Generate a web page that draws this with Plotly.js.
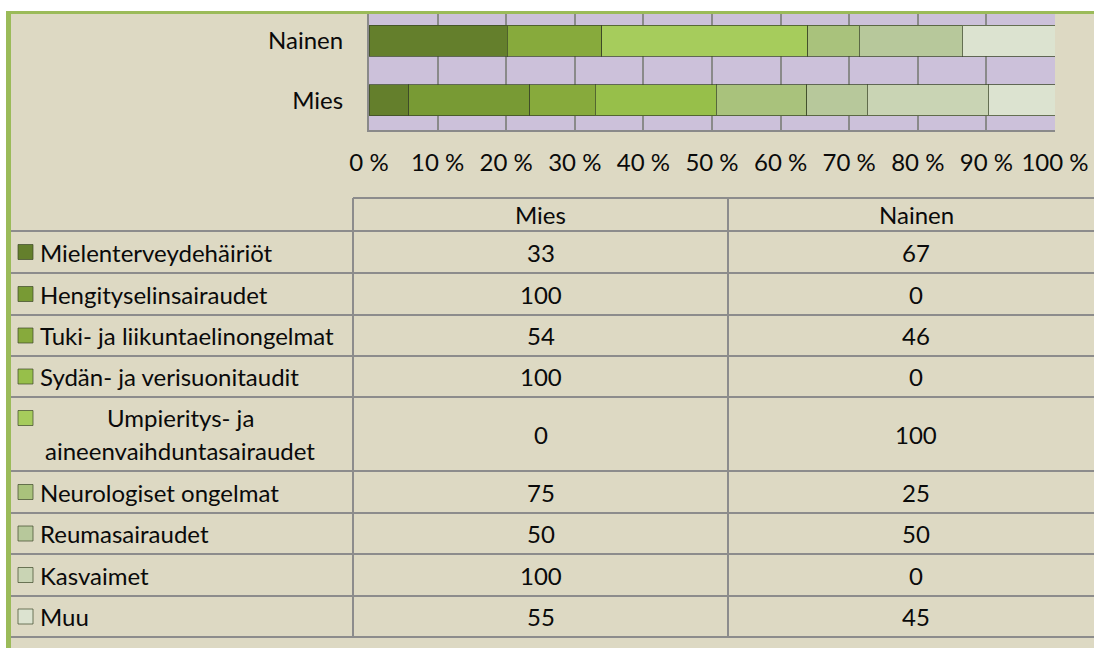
<!DOCTYPE html>
<html>
<head>
<meta charset="utf-8">
<script src="https://cdn.plot.ly/plotly-3.0.1.min.js"></script>
<style>html,body{margin:0;padding:0;background:#fff;}#chart{width:1094px;height:648px;}</style>
</head>
<body>
<div id="chart"></div>
<script>
// ---- data ----
const categories = ['Mies', 'Nainen'];
const seriesNames = [
  'Mielenterveydehäiriöt',
  'Hengityselinsairaudet',
  'Tuki- ja liikuntaelinongelmat',
  'Sydän- ja verisuonitaudit',
  'Umpieritys- ja<br>aineenvaihduntasairaudet',
  'Neurologiset ongelmat',
  'Reumasairaudet',
  'Kasvaimet',
  'Muu'
];
const miesValues   = [33, 100, 54, 100, 0, 75, 50, 100, 55];
const nainenValues = [67, 0, 46, 0, 100, 25, 50, 0, 45];
const tickValues = [0, 10, 20, 30, 40, 50, 60, 70, 80, 90, 100];
const tickLabels = ['0 %', '10 %', '20 %', '30 %', '40 %', '50 %', '60 %', '70 %', '80 %', '90 %', '100 %'];
const columnHeaders = ['Mies', 'Nainen'];

// ---- styles ----
const colors = ['#647f2c', '#789a34', '#87aa3c', '#97bf4a', '#a6cc5c', '#a9c27c', '#b7c89b', '#c9d4b4', '#dce3d0'];
const FONT = 'Lato, "Open Sans", sans-serif';
const FS = 24;
const TXT = '#0a0a0a';
const L = 369, R = 1055, T = 11, B = 130;
const W = R - L, H = B - T;
const px = x => (x - L) / W;
const py = y => (B - y) / H;

const traces = seriesNames.map((name, i) => ({
  type: 'bar',
  orientation: 'h',
  name: name,
  y: categories,
  x: [miesValues[i], nainenValues[i]],
  marker: {color: colors[i], line: {color: 'rgba(60,72,40,0.75)', width: 1}},
  hoverinfo: 'none'
}));

// table geometry (pixels)
const headerTop = 198, headerBottom = 231;
const rowHeights = [42, 42, 41, 41, 74, 42, 41, 42, 41];
const colX = [11, 353, 728, 1104];
const shapes = [];
const annotations = [];
const lineStyle = {color: '#8c8c8c', width: 2};

// frame: white strips, green border
shapes.push({type: 'rect', xref: 'paper', yref: 'paper', x0: px(-5), x1: px(6), y0: py(660), y1: py(-5), fillcolor: '#ffffff', line: {width: 0}, layer: 'above'});
shapes.push({type: 'rect', xref: 'paper', yref: 'paper', x0: px(-5), x1: px(1100), y0: py(11), y1: py(-5), fillcolor: '#ffffff', line: {width: 0}, layer: 'above'});
shapes.push({type: 'rect', xref: 'paper', yref: 'paper', x0: px(6), x1: px(1100), y0: py(14), y1: py(11), fillcolor: '#9bbb59', line: {width: 0}, layer: 'above'});
shapes.push({type: 'rect', xref: 'paper', yref: 'paper', x0: px(6), x1: px(11), y0: py(660), y1: py(11), fillcolor: '#9bbb59', line: {width: 0}, layer: 'above'});

// header
shapes.push({type: 'line', xref: 'paper', yref: 'paper', x0: px(colX[1]), x1: px(1100), y0: py(headerTop), y1: py(headerTop), line: lineStyle});
shapes.push({type: 'line', xref: 'paper', yref: 'paper', x0: px(colX[0]), x1: px(1100), y0: py(headerBottom), y1: py(headerBottom), line: lineStyle});
columnHeaders.forEach((h, j) => {
  annotations.push({xref: 'paper', yref: 'paper', x: px((colX[j + 1] + colX[j + 2]) / 2), y: py((headerTop + headerBottom) / 2),
    text: h, showarrow: false, xanchor: 'center', yanchor: 'middle', font: {family: FONT, size: FS, color: TXT}});
});

let yTop = headerBottom;
seriesNames.forEach((name, i) => {
  const yBot = yTop + rowHeights[i];
  const yMid = (yTop + yBot) / 2;
  shapes.push({type: 'line', xref: 'paper', yref: 'paper', x0: px(colX[0]), x1: px(1100), y0: py(yBot), y1: py(yBot), line: lineStyle});
  const multi = name.indexOf('<br>') >= 0;
  const keyY = multi ? yTop + 21 : yMid;
  shapes.push({type: 'rect', xref: 'paper', yref: 'paper', x0: px(18), x1: px(33), y0: py(keyY + 7.5), y1: py(keyY - 7.5),
    fillcolor: colors[i], line: {color: 'rgba(60,72,40,0.7)', width: 1}, layer: 'above'});
  if (multi) {
    const parts = name.split('<br>');
    annotations.push({xref: 'paper', yref: 'paper', x: px(180), y: py(yTop + 20), text: parts[0], showarrow: false,
      xanchor: 'center', yanchor: 'middle', font: {family: FONT, size: FS, color: TXT}});
    annotations.push({xref: 'paper', yref: 'paper', x: px(180), y: py(yTop + 53), text: parts[1], showarrow: false,
      xanchor: 'center', yanchor: 'middle', font: {family: FONT, size: FS, color: TXT}});
  } else {
    annotations.push({xref: 'paper', yref: 'paper', x: px(38), y: py(yMid), text: name, showarrow: false,
      xanchor: 'left', yanchor: 'middle', font: {family: FONT, size: FS, color: TXT}});
  }
  [miesValues[i], nainenValues[i]].forEach((v, j) => {
    annotations.push({xref: 'paper', yref: 'paper', x: px((colX[j + 1] + colX[j + 2]) / 2), y: py(yMid), text: String(v), showarrow: false,
      xanchor: 'center', yanchor: 'middle', font: {family: FONT, size: FS, color: TXT}});
  });
  yTop = yBot;
});
const tableBottom = yTop;
[colX[1], colX[2]].forEach(x => {
  shapes.push({type: 'line', xref: 'paper', yref: 'paper', x0: px(x), x1: px(x), y0: py(headerTop), y1: py(tableBottom), line: lineStyle});
});

const layout = {
  width: 1094, height: 648,
  margin: {l: L, r: 1094 - R, t: T, b: 648 - B, pad: 0},
  paper_bgcolor: '#ddd9c3',
  plot_bgcolor: '#ccc1da',
  barmode: 'stack',
  barnorm: 'percent',
  bargap: 0.48,
  showlegend: false,
  font: {family: FONT, size: FS, color: TXT},
  xaxis: {
    range: [0, 100], tickvals: tickValues, ticktext: tickLabels,
    showgrid: true, gridcolor: '#8a8a8a', gridwidth: 2,
    showline: true, linecolor: '#8a8a8a', linewidth: 2,
    ticks: 'outside', ticklen: 10, tickcolor: 'rgba(0,0,0,0)',
    zeroline: false, fixedrange: true,
    tickfont: {family: FONT, size: FS, color: TXT}
  },
  yaxis: {
    type: 'category', range: [-0.5, 1.5],
    showline: true, linecolor: '#8a8a8a', linewidth: 2,
    ticks: 'outside', ticklen: 19, tickcolor: 'rgba(0,0,0,0)',
    showgrid: false, fixedrange: true,
    tickfont: {family: FONT, size: FS, color: TXT}
  },
  shapes: shapes,
  annotations: annotations
};

Plotly.newPlot('chart', traces, layout, {displayModeBar: false, staticPlot: true});
</script>
</body>
</html>
